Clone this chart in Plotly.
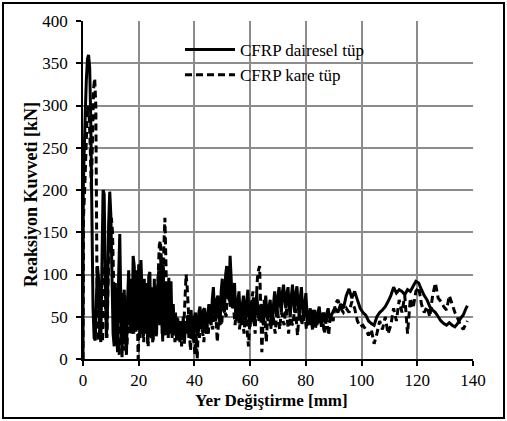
import plotly.graph_objects as go

# ---- data: CFRP dairesel tüp (solid), (displacement mm, force kN) ----
daire_pts = [
    (0.0, 0), (0.1, 200), (0.4, 240), (0.8, 290), (1.2, 330), (1.6, 355), (2.0, 360), (2.4, 345), (2.8, 280),
    (3.2, 170), (3.6, 60), (4.0, 25), (4.4, 22), (4.8, 70), (5.2, 110), (5.6, 95), (6.0, 30), (6.4, 20),
    (6.8, 110), (7.2, 200), (7.6, 195), (8.0, 100), (8.4, 25), (8.8, 60), (9.2, 160), (9.6, 198), (10.0, 170),
    (10.4, 100), (10.8, 30), (11.2, 15), (11.6, 90), (12.0, 40), (12.4, 8), (12.8, 100), (13.2, 148),
    (13.6, 60), (14.0, 2), (14.4, 60), (14.8, 82), (15.2, 25), (15.6, 5), (16.0, 70), (16.4, 105), (16.8, 40),
    (17.2, 95), (17.6, 30), (18.0, 122), (18.4, 110), (18.8, 35), (19.2, 105), (19.6, 40), (20.0, 112),
    (20.4, 25), (20.8, 117), (21.2, 80), (21.6, 25), (22.0, 95), (22.4, 30), (22.8, 90), (23.2, 18), (23.6, 98),
    (24.0, 103), (24.4, 30), (24.8, 85), (25.2, 22), (25.6, 95), (26.0, 35), (26.4, 28), (26.8, 85),
    (27.2, 105), (27.6, 40), (28.0, 125), (28.4, 30), (28.8, 112), (29.2, 45), (29.6, 28), (30.0, 90),
    (30.4, 30), (30.8, 96), (31.2, 35), (31.6, 92), (32.0, 25), (32.4, 65), (32.8, 28), (33.2, 55), (33.6, 22),
    (34.0, 48), (34.4, 30), (34.8, 20), (35.2, 42), (35.6, 28), (36.0, 50), (36.4, 18), (36.8, 45), (37.2, 30),
    (37.6, 52), (38.0, 25), (38.4, 48), (38.8, 58), (39.2, 30), (39.6, 22), (40.0, 50), (40.4, 55), (40.8, 32),
    (41.2, 28), (41.6, 55), (42.0, 62), (42.4, 40), (42.8, 35), (43.2, 58), (43.6, 60), (44.0, 38), (44.4, 30),
    (44.8, 55), (45.2, 65), (45.6, 45), (46.0, 40), (46.4, 70), (46.8, 85), (47.2, 55), (47.6, 45), (48.0, 70),
    (48.4, 75), (48.8, 50), (49.2, 40), (49.6, 80), (50.0, 95), (50.4, 60), (50.8, 55), (51.2, 100),
    (51.6, 110), (52.0, 75), (52.4, 70), (52.8, 122), (53.2, 95), (53.6, 60), (54.0, 75), (54.4, 90),
    (54.8, 55), (55.2, 45), (55.6, 70), (56.0, 80), (56.4, 50), (56.8, 40), (57.2, 65), (57.6, 75), (58.0, 50),
    (58.4, 45), (58.8, 70), (59.2, 82), (59.6, 50), (60.0, 38), (60.4, 60), (60.8, 70), (61.2, 45), (61.6, 40),
    (62.0, 65), (62.4, 78), (62.8, 55), (63.2, 45), (63.6, 60), (64.0, 65), (64.4, 45), (64.8, 40), (65.2, 60),
    (65.6, 75), (66.0, 55), (66.4, 45), (66.8, 62), (67.2, 70), (67.6, 50), (68.0, 40), (68.4, 65), (68.8, 80),
    (69.2, 60), (69.6, 50), (70.0, 75), (70.4, 85), (70.8, 65), (71.2, 55), (71.6, 80), (72.0, 88), (72.4, 70),
    (72.8, 60), (73.2, 78), (73.6, 85), (74.0, 62), (74.4, 50), (74.8, 75), (75.2, 88), (75.6, 68), (76.0, 55),
    (76.4, 78), (76.8, 86), (77.2, 65), (77.6, 50), (78.0, 72), (78.4, 85), (78.8, 62), (79.2, 45), (79.6, 65),
    (80.0, 78), (80.4, 55), (80.8, 40), (81.2, 52), (81.6, 60), (82.0, 45), (82.4, 35), (82.8, 50), (83.2, 58),
    (83.6, 45), (84.0, 40), (84.4, 55), (84.8, 62), (85.2, 48), (85.6, 38), (86.0, 50), (86.4, 55), (86.8, 45),
    (87.2, 42), (87.6, 55), (88.0, 60), (88.4, 50), (88.8, 45), (89.2, 52), (89.6, 55), (90.0, 58),
    (90.5, 60), (91.5, 55), (92.5, 65), (93.5, 60), (94.5, 75), (95.5, 83), (96.5, 72), (97.5, 80), (98.5, 70),
    (99.5, 60), (100.5, 55), (101.5, 52), (102.5, 45), (103.5, 42), (104.5, 40), (105.5, 50), (106.5, 55),
    (107.5, 58), (108.5, 62), (109.5, 68), (110.5, 75), (111.5, 85), (112.5, 78), (113.5, 82), (114.5, 80),
    (115.5, 76), (116.5, 82), (117.5, 80), (118.5, 86), (119.5, 92), (120.5, 90), (121.5, 82), (122.5, 75),
    (123.5, 70), (124.5, 62), (125.5, 58), (126.5, 55), (127.5, 50), (128.5, 45), (129.5, 42), (130.5, 40),
    (131.5, 43), (132.5, 40), (133.5, 38), (134.5, 42), (135.5, 48), (136.5, 52), (137.5, 60), (138.0, 63),
]

# ---- data: CFRP kare tüp (dashed), (displacement mm, force kN) ----
kare_pts = [
    (0.0, 0), (0.2, 170), (0.6, 200), (1.0, 240), (1.4, 280), (1.8, 300), (2.2, 290), (2.6, 250), (3.0, 200),
    (3.4, 260), (3.8, 320), (4.2, 332), (4.6, 300), (5.0, 100), (5.4, 25), (5.8, 22), (6.2, 80), (6.6, 40),
    (7.0, 20), (7.4, 70), (7.8, 110), (8.2, 50), (8.6, 25), (9.0, 90), (9.4, 130), (9.8, 160), (10.2, 167),
    (10.6, 150), (11.0, 90), (11.4, 40), (11.8, 20), (12.2, 75), (12.6, 25), (13.0, 5), (13.4, 60), (13.8, 80),
    (14.2, 30), (14.6, 10), (15.0, 75), (15.4, 40), (15.8, 15), (16.2, 60), (16.6, 80), (17.0, 30), (17.4, 70),
    (17.8, 85), (18.2, 30), (18.6, 80), (19.0, 30), (19.4, 70), (19.8, 0), (20.2, 50), (20.6, 80), (21.0, 30),
    (21.4, 70), (21.8, 20), (22.2, 75), (22.6, 30), (23.0, 70), (23.4, 15), (23.8, 60), (24.2, 75), (24.6, 25),
    (25.0, 20), (25.4, 65), (25.8, 80), (26.2, 25), (26.6, 60), (27.0, 100), (27.4, 135), (27.8, 140),
    (28.2, 95), (28.6, 20), (29.0, 130), (29.4, 167), (29.8, 110), (30.2, 40), (30.6, 25), (31.0, 60),
    (31.4, 30), (31.8, 65), (32.2, 30), (32.6, 50), (33.0, 20), (33.4, 40), (33.8, 50),
    (34.2, 40), (34.6, 25), (35.0, 45), (35.4, 15), (35.8, 30), (36.2, 40), (36.6, 70), (37.0, 100), (37.4, 85),
    (37.8, 60), (38.2, 30), (38.6, 10), (39.0, 45), (39.4, 35), (39.8, 20), (40.2, 5), (40.6, 30), (41.0, 0),
    (41.4, 40), (41.8, 25), (42.2, 55), (42.6, 45), (43.0, 30), (43.4, 20), (43.8, 45), (44.2, 50), (44.6, 35),
    (45.0, 30), (45.4, 55), (45.8, 60), (46.2, 40), (46.6, 35), (47.0, 65), (47.4, 70), (47.8, 45), (48.2, 20),
    (48.6, 40), (49.0, 55), (49.4, 45), (49.8, 40), (50.2, 65), (50.6, 75), (51.0, 55), (51.4, 50), (51.8, 80),
    (52.2, 90), (52.6, 70), (53.0, 60), (53.4, 85), (53.8, 80), (54.2, 55), (54.6, 40), (55.0, 60), (55.4, 70),
    (55.8, 50), (56.2, 35), (56.6, 55), (57.0, 60), (57.4, 45), (57.8, 30), (58.2, 50), (58.6, 55), (59.0, 30),
    (59.4, 15), (59.8, 40), (60.2, 50), (60.6, 70), (61.0, 80), (61.4, 50), (61.8, 30), (62.2, 70), (62.6, 95),
    (63.0, 105), (63.4, 110), (63.8, 60), (64.2, 8), (64.6, 40), (65.0, 70), (65.4, 45), (65.8, 20), (66.2, 45),
    (66.6, 60), (67.0, 50), (67.4, 35), (67.8, 50), (68.2, 55), (68.6, 40), (69.0, 30), (69.4, 50), (69.8, 60),
    (70.2, 45), (70.6, 35), (71.0, 50), (71.4, 55), (71.8, 45), (72.2, 40), (72.6, 55), (73.0, 60), (73.4, 45),
    (73.8, 30), (74.2, 45), (74.6, 50), (75.0, 42), (75.4, 40), (75.8, 55), (76.2, 60), (76.6, 45), (77.0, 28),
    (77.4, 45), (77.8, 55), (78.2, 48), (78.6, 40), (79.0, 55), (79.4, 62), (79.8, 48), (80.2, 35), (80.6, 45),
    (81.0, 50), (81.4, 45), (81.8, 40), (82.2, 52), (82.6, 58), (83.0, 45), (83.4, 35), (83.8, 45), (84.2, 50),
    (84.6, 45), (85.0, 40), (85.4, 50), (85.8, 55), (86.2, 42), (86.6, 30), (87.0, 42), (87.4, 48), (87.8, 38),
    (88.2, 28), (88.6, 45), (89.0, 52), (89.4, 48), (89.8, 45),
    (90.5, 65), (91.5, 70), (92.5, 60), (93.5, 55), (94.5, 60), (95.5, 55), (96.5, 68), (97.5, 60), (98.5, 45),
    (99.5, 38), (100.5, 40), (101.5, 35), (102.5, 28), (103.5, 35), (104.5, 18), (105.5, 30), (106.5, 45),
    (107.5, 35), (108.5, 50), (109.5, 30), (110.5, 40), (111.5, 60), (112.5, 45), (113.5, 70), (114.5, 55),
    (115.5, 75), (116.5, 30), (117.5, 72), (118.5, 60), (119.5, 80), (120.5, 85), (121.5, 65), (122.5, 55),
    (123.5, 62), (124.5, 50), (125.5, 75), (126.5, 90), (127.5, 72), (128.5, 68), (129.5, 62), (130.5, 58),
    (131.5, 75), (132.5, 65), (133.5, 55), (134.5, 48), (135.5, 40), (136.5, 35), (137.5, 42), (138.0, 45),
]

x_ticks = [0, 20, 40, 60, 80, 100, 120, 140]
y_ticks = [0, 50, 100, 150, 200, 250, 300, 350, 400]
x_title = "Yer Değiştirme [mm]"
y_title = "Reaksiyon Kuvveti [kN]"

daire_x = [p[0] for p in daire_pts]
daire_y = [p[1] for p in daire_pts]
kare_x = [p[0] for p in kare_pts]
kare_y = [p[1] for p in kare_pts]

FONT = "Liberation Serif, DejaVu Serif, serif"

fig = go.Figure()
fig.add_trace(go.Scatter(x=daire_x, y=daire_y, mode="lines", name="CFRP dairesel tüp",
                         legendgroup="a", line=dict(color="black", width=3, simplify=False)))
fig.add_trace(go.Scatter(x=kare_x, y=kare_y, mode="lines", name="CFRP kare tüp",
                         legendgroup="b", line=dict(color="black", width=3, dash="7px,4px", simplify=False)))

W, H = 507, 421
L, R, T, B = 83, 34, 21, 62
pw, ph = W - L - R, H - T - B


def px2x(p):
    return (p - L) / pw


def px2y(p):
    return (H - B - p) / ph


axis_common = dict(showgrid=True, gridcolor="#8c8c8c", gridwidth=1.5,
                   zeroline=False, showline=True, linecolor="black", linewidth=1.5,
                   ticks="outside", ticklen=5, tickwidth=1.5, tickcolor="black",
                   tickfont=dict(family=FONT, size=17, color="black"))

fig.update_layout(
    width=W, height=H,
    margin=dict(l=L, r=R, t=T, b=B),
    paper_bgcolor="white", plot_bgcolor="white",
    font=dict(family=FONT, size=17, color="black"),
    showlegend=True,
    legend=dict(x=px2x(180), y=px2y(32), xanchor="left", yanchor="top",
                bgcolor="rgba(0,0,0,0)", borderwidth=0, tracegroupgap=0,
                itemwidth=50, font=dict(family=FONT, size=17, color="black")),
    xaxis=dict(range=[0, 140], tickvals=x_ticks, ticklabelstandoff=0, **axis_common),
    yaxis=dict(range=[0, 400], tickvals=y_ticks, ticklabelstandoff=5, **axis_common),
    annotations=[
        dict(text="<b>" + x_title + "</b>", xref="paper", yref="paper", x=px2x(271), y=px2y(400),
             xanchor="center", yanchor="middle", showarrow=False,
             font=dict(family=FONT, size=17, color="black")),
        dict(text="<b>" + y_title + "</b>", xref="paper", yref="paper", x=px2x(31), y=px2y(195),
             xanchor="center", yanchor="middle", showarrow=False, textangle=-90,
             font=dict(family=FONT, size=18, color="black")),
    ],
    shapes=[
        dict(type="rect", xref="paper", yref="paper", x0=px2x(155), x1=px2x(395), y0=px2y(85), y1=px2y(36),
             fillcolor="white", line=dict(width=0), layer="between"),
        dict(type="rect", xref="paper", yref="paper", x0=px2x(3), x1=px2x(504), y0=px2y(418), y1=px2y(3),
             fillcolor="rgba(0,0,0,0)", line=dict(color="black", width=2), layer="above"),
    ],
)

fig.write_html("out.html")
